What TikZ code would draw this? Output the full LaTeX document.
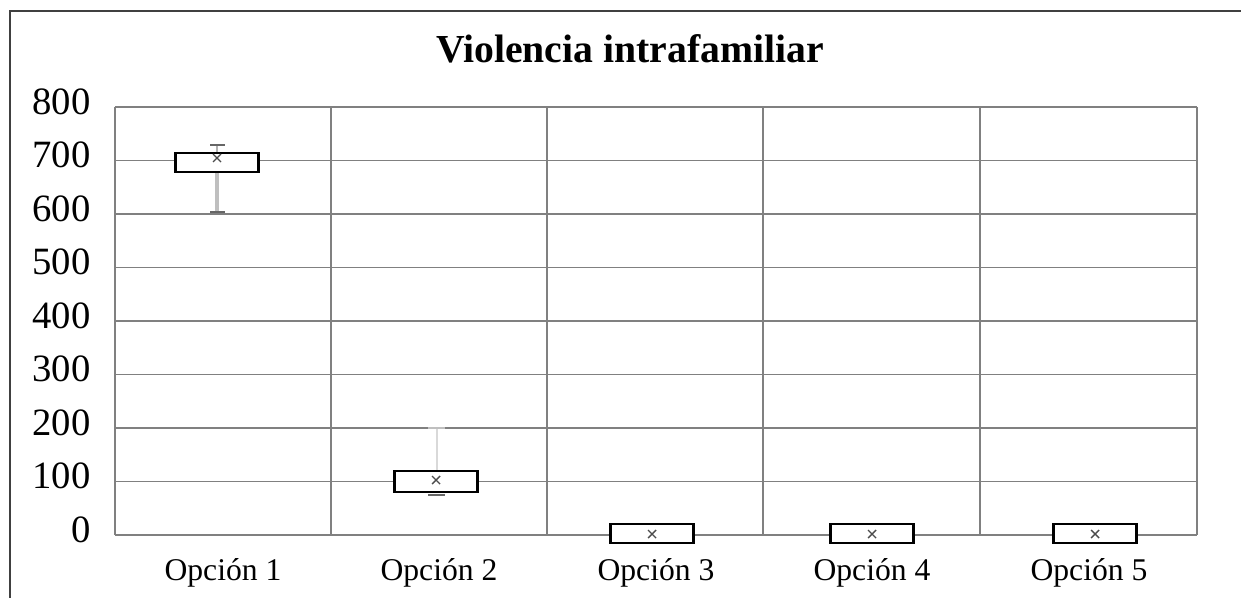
\documentclass[tikz,border=0pt]{standalone}
\usepackage{fontspec}
\setmainfont{Liberation Serif}
\usetikzlibrary{positioning}
\begin{document}
\begin{tikzpicture}[x=0.02cm,y=-0.02cm,
  gridline/.style={line width=1pt, black!50},
  boxline/.style={line width=1.3pt, black, fill=white},
  capline/.style={line width=1.3pt, black!60},
  ylab/.style={anchor=base east, inner sep=0pt, font=\fontsize{22}{26}\selectfont},
  xlab/.style={anchor=base, inner sep=0pt, font=\fontsize{18}{22}\selectfont}]
\useasboundingbox (0,0) rectangle (1241,598);

%frame
\draw[line width=1.2pt, black!75] (10,598) -- (10,11) -- (1241,11);

%title
\node[anchor=base, inner sep=0pt, font=\fontsize{22.6}{26}\selectfont\bfseries] (title) at (630,63) {Violencia intrafamiliar};

%grid
\foreach \v/\t in {0/0,1/100,2/200,3/300,4/400,5/500,6/600,7/700,8/800} {
\draw[gridline] (115,{535-53.5*\v}) -- (1197,{535-53.5*\v});
\node[ylab] (y\v) at (91,{542-53.5*\v}) {\t};
}
\foreach \x in {115,331,547,763,980,1197} {
\draw[gridline] (\x,107) -- (\x,535);
}

%whiskers
\draw[line width=2.2pt, black!25] (217,172) -- (217,212);
\draw[line width=1pt, black!30] (217,145) -- (217,153);
\draw[capline] (210,145) -- (225,145);
\draw[capline] (210,212) -- (225,212);
\draw[line width=0.6pt, black!15] (437,428) -- (437,471);
\draw[line width=1pt, black!25] (428,428) -- (445,428);
\draw[capline] (428,495) -- (445,495);

%boxes
\foreach \c/\top/\bot/\m [count=\i] in {217/153/172/158, 436/471/492/480, 652/524/543/534, 872/524/543/534, 1095/524/543/534} {
\draw[boxline] (\c-41.5,\top) rectangle (\c+41.5,\bot);
\draw[line width=0.8pt, black!70] (\c-4,\m-4) -- (\c+4,\m+4) (\c-4,\m+4) -- (\c+4,\m-4);
}

%labels
\foreach \x [count=\i] in {223,439,656,872,1089} {
\node[xlab] (opt\i) at (\x,580) {Opción \i};
}
\end{tikzpicture}
\end{document}
